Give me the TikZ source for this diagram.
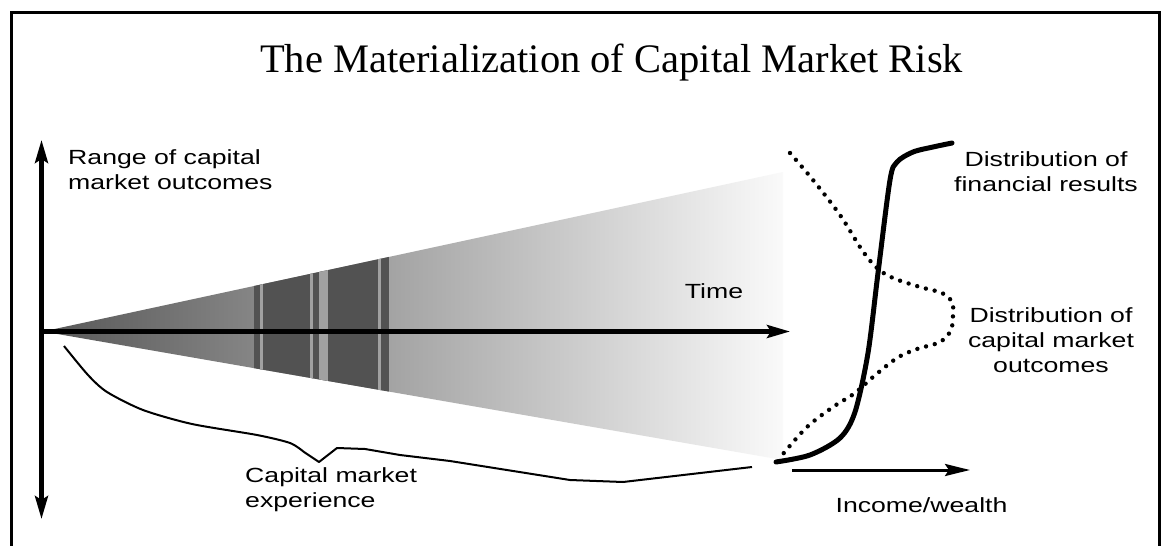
\documentclass[tikz,border=0pt]{standalone}
\usepackage{fontspec}
\setmainfont{Liberation Serif}
\newfontfamily\lab[FakeStretch=1.3]{Liberation Sans}
\usetikzlibrary{arrows.meta}
\tikzset{
  frameline/.style={line width=2.5pt, line cap=rect},
  axisarrow/.style={line width=4.2pt, -{Stealth[length=23pt,width=13pt,inset=4pt]}},
  axisboth/.style={line width=4.2pt, {Stealth[length=23pt,width=13pt,inset=4pt]}-{Stealth[length=23pt,width=13pt,inset=4pt]}},
  incarrow/.style={line width=3pt, -{Stealth[length=25pt,width=12pt,inset=4pt]}},
  lbl/.style={font=\lab\fontsize{20.5}{25}\selectfont, inner sep=0pt, text=black},
  scurve/.style={line width=5pt, line join=round, line cap=round},
  dotcurve/.style={line width=4.4pt, line cap=round, dash pattern=on 0pt off 9pt},
  thincurve/.style={line width=2pt, line join=round},
}
\definecolor{banddark}{gray}{0.32}
\definecolor{bandlight}{gray}{0.63}
\begin{document}
\begin{tikzpicture}[x=1pt,y=-1pt]
\useasboundingbox (0,0) rectangle (1165,546);
\fill[white] (0,0) rectangle (1165,546);
% frame (open at the bottom)
\draw[frameline] (11.5,546) -- (11.5,12.5) -- (1159.5,12.5) -- (1159.5,546);
% title
\node[font=\fontsize{40.5}{48}\selectfont, anchor=base, inner sep=0pt] (title) at (611.5,72) {The Materialization of Capital Market Risk};
% cone
\coordinate (apex) at (43,331.5);
\coordinate (ctop) at (783,172);
\coordinate (cbot) at (783,460);
\shade[left color=black!66, middle color=black!28, right color=black!2] (apex) -- (ctop) -- (cbot) -- cycle;
\begin{scope}
  \clip (apex) -- (ctop) -- (cbot) -- cycle;
  \fill[banddark] (254,150) rectangle (389,480);
  \fill[bandlight] (260,150) rectangle (263,480);
  \fill[bandlight] (310,150) rectangle (313,480);
  \fill[bandlight] (319,150) rectangle (328,480);
  \fill[bandlight] (378,150) rectangle (381,480);
\end{scope}
% axes
\coordinate (vtop) at (41.5,140);
\coordinate (vbot) at (41.5,519);
\coordinate (origin) at (41.5,331.5);
\coordinate (tend) at (790,331.5);
\draw[axisboth] (vbot) -- (vtop);
\draw[axisarrow] (origin) -- (tend);
% capital market experience
\draw[thincurve] plot[smooth, tension=0.45] coordinates {(64,346) (88,375) (107,392) (143,410) (192,424) (257,435) (290,443) (304,452)}
  -- (319,462) -- (337,448) -- (365,449) -- (400,455) -- (450,461) -- (570,480) -- (623,482) -- (752,467);
% distribution of capital market outcomes (dotted)
\draw[dotcurve] plot[smooth, tension=0.55] coordinates {(790,153) (813,180) (840,215) (862,250) (877,268) (893,278) (920,287) (942,293) (952,302) (953,314) (951,330) (940,342) (917,349) (897,358) (873,377) (855,393) (833,407) (807,427) (783,454)};
% distribution of financial results (S curve)
\draw[scurve] plot[smooth, tension=0.5] coordinates {(776,462) (810,455) (840,438) (855,412) (868,353) (878,273) (890,180) (897,162) (913,152) (933,147) (952,143)};
% income/wealth axis
\coordinate (iw1) at (792,470);
\coordinate (iw2) at (970,470);
\draw[incarrow] (iw1) -- (iw2);
% labels (base anchor = baseline of the last line)
\node[lbl, anchor=base west, align=left] (range) at (68,189) {Range of capital\\market outcomes};
\node[lbl, anchor=base west, align=left] (exper) at (245,507) {Capital market\\experience};
\node[lbl, anchor=base] (time) at (714,298) {Time};
\node[lbl, anchor=base, align=center] (finres) at (1046,191) {Distribution of\\financial results};
\node[lbl, anchor=base, align=center] (cmout) at (1051,372) {Distribution of\\capital market\\outcomes};
\node[lbl, anchor=base] (income) at (921.5,512) {Income/wealth};
\end{tikzpicture}
\end{document}
